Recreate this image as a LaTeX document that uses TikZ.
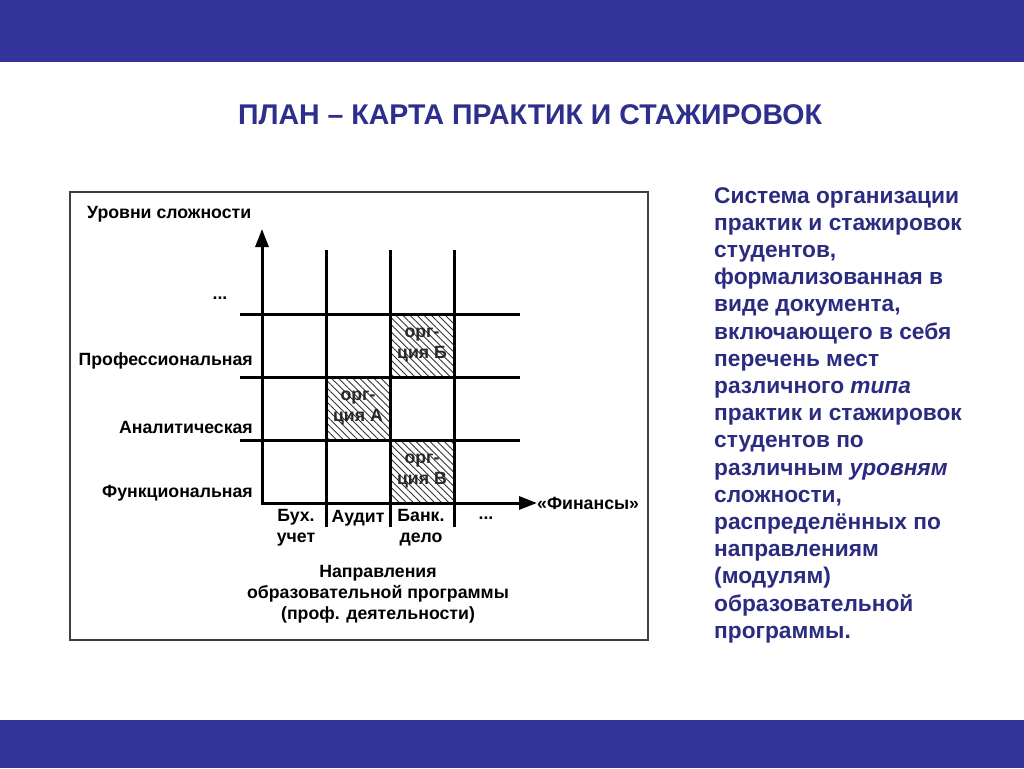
\documentclass[tikz,border=0pt]{standalone}
\usepackage{fontspec}
\setmainfont{Liberation Sans}
\usetikzlibrary{arrows.meta,patterns.meta}
\definecolor{band}{RGB}{51,51,153}
\definecolor{titlec}{RGB}{46,46,140}
\definecolor{bodyc}{RGB}{43,43,128}
\definecolor{cellc}{RGB}{40,40,40}
\tikzset{
  lbl/.style={font=\bfseries\fontsize{17.7}{21}\selectfont, text=black, inner sep=0pt},
  grid/.style={line width=3pt, black},
  axis/.style={line width=3pt, black, -{Triangle[length=18pt,width=13pt]}},
  hatch/.style={pattern={Lines[angle=-45,distance=5pt,line width=0.9pt]}, pattern color=black!80},
  celltxt/.style={font=\bfseries\fontsize{17.7}{21}\selectfont, text=cellc, align=center, inner sep=0pt}
}
\begin{document}
\begin{tikzpicture}[x=1pt,y=-1pt]
\useasboundingbox (0,0) rectangle (1024,768);
\fill[white] (0,0) rectangle (1024,768);
\fill[band] (0,0) rectangle (1024,62);
\fill[band] (0,720) rectangle (1024,768);
\node[font=\bfseries\fontsize{28.5}{32}\selectfont, text=titlec, inner sep=0pt] (title) at (530,115) {ПЛАН – КАРТА ПРАКТИК И СТАЖИРОВОК};
% frame
\draw[line width=1.2pt, black!75] (70,192) rectangle (648,640);
% hatched cells
\fill[hatch] (390,314) rectangle (454,377);
\fill[hatch] (326,377) rectangle (390,440);
\fill[hatch] (390,440) rectangle (454,503);
% grid
\coordinate (yt) at (262,229);
\coordinate (xe) at (537,503);
\foreach \x in {326,390,454} \draw[grid] (\x,250) -- (\x,527);
\foreach \y in {314,377,440} \draw[grid] (240,\y) -- (520,\y);
\draw[axis] (262,504.5) -- (yt);
\draw[axis] (260.5,503) -- (xe);
% labels
\node[lbl, anchor=west] (ylab) at (87,214) {Уровни сложности};
\node[lbl] (ydots) at (220,298) {...};
\node[lbl, anchor=east] (prof) at (253,361) {Профессиональная};
\node[lbl, anchor=east] (anal) at (253,427) {Аналитическая};
\node[lbl, anchor=east] (func) at (253,493) {Функциональная};
\node[lbl, align=center] (buh) at (296,528) {Бух.\\учет};
\node[lbl] (aud) at (358,518) {Аудит};
\node[lbl, align=center] (bank) at (421,528) {Банк.\\дело};
\node[lbl] (xdots) at (486,518) {...};
\node[lbl, anchor=west] (fin) at (537,503) {«Финансы»};
\node[lbl, align=center] (napr) at (378,594) {Направления\\образовательной программы\\(проф. деятельности)};
\node[celltxt] (cB) at (422,345) {орг-\\ция Б};
\node[celltxt] (cA) at (358,408) {орг-\\ция А};
\node[celltxt] (cV) at (422,471) {орг-\\ция В};
% right text
\node[anchor=north west, inner sep=0pt, align=left, text=bodyc, font=\bfseries\fontsize{22.7}{27.2}\selectfont] (body) at (714,187)
{Система организации\\практик и стажировок\\студентов,\\формализованная в\\виде документа,\\включающего в себя\\перечень мест\\различного \textit{типа}\\практик и стажировок\\студентов по\\различным \textit{уровням}\\сложности,\\распределённых по\\направлениям\\(модулям)\\образовательной\\программы.};
\end{tikzpicture}
\end{document}
